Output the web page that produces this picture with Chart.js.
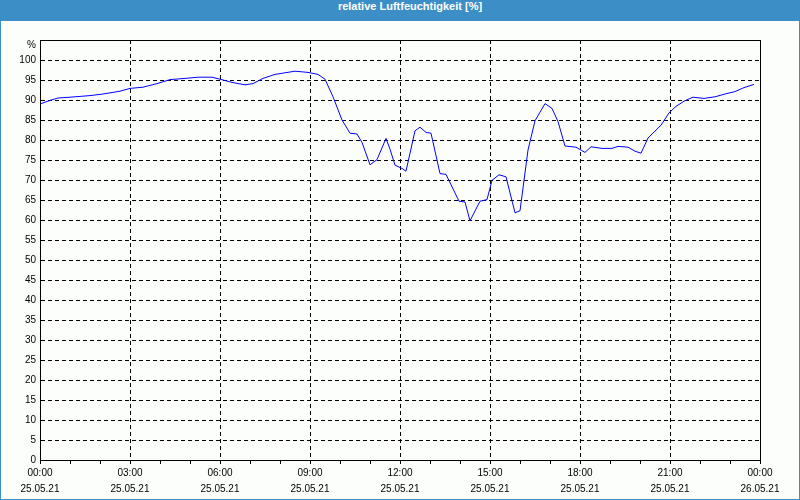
<!DOCTYPE html>
<html>
<head>
<meta charset="utf-8">
<script src="https://cdn.jsdelivr.net/npm/chart.js@4"></script>
<style>
    body { margin: 0; background: #fff; }
    #wrap { width: 800px; height: 500px; }
    #title {
        height: 21px;
        line-height: 19px;
        background: #3c8fc6;
        color: #fff;
        font: bold 11px "Liberation Sans", Arial, sans-serif;
        text-align: center;
        padding-left: 20px;
        box-sizing: border-box;
    }
    #box {
        width: 798px;
        height: 478px;
        border: 1px solid #3c8fc6;
        border-top: none;
        background: #fcfefc;
    }
    canvas { display: block; }
</style>
</head>
<body>
<div id="wrap">
    <div id="title">relative Luftfeuchtigkeit [%]</div>
    <div id="box"><canvas id="humChart" width="798" height="478"></canvas></div>
</div>
<script>
// Minutes since 25.05.21 00:00
const minutes = [0, 20, 36, 60, 100, 126, 160, 180, 206, 234, 260, 290, 316, 344, 360, 384, 410, 426, 446, 470,
    510, 536, 556, 570, 586, 604, 620, 634, 644, 660, 674, 692, 700, 710, 724, 732, 750, 760, 772, 782,
    800, 812, 838, 850, 860, 880, 894, 904, 918, 932, 950, 960, 976, 990, 1010, 1024, 1036, 1050, 1072, 1090,
    1102, 1124, 1144, 1156, 1176, 1190, 1202, 1216, 1242, 1258, 1272, 1288, 1306, 1328, 1350, 1370, 1390, 1408, 1428];

// relative humidity in %
const humidity = [89.0, 89.9, 90.5, 90.7, 91.1, 91.5, 92.2, 92.9, 93.2, 94.1, 95.1, 95.4, 95.7, 95.7, 95.2, 94.4, 93.8, 94.1, 95.4, 96.4,
    97.2, 96.9, 96.4, 95.2, 90.8, 85.0, 81.7, 81.5, 79.4, 73.8, 75.1, 80.4, 77.7, 73.7, 72.9, 72.2, 82.3, 83.2, 81.9, 81.7,
    71.6, 71.4, 64.7, 64.5, 59.8, 64.7, 65.1, 69.9, 71.3, 70.8, 61.8, 62.3, 77.5, 84.8, 89.1, 87.9, 84.6, 78.5, 78.2, 76.9,
    78.3, 77.9, 77.9, 78.4, 78.2, 77.2, 76.7, 80.5, 83.7, 86.8, 88.4, 89.7, 90.7, 90.4, 90.8, 91.5, 92.1, 93.1, 93.9];

const timeLabels = ['00:00', '03:00', '06:00', '09:00', '12:00', '15:00', '18:00', '21:00', '00:00'];
const dateLabels = ['25.05.21', '25.05.21', '25.05.21', '25.05.21', '25.05.21', '25.05.21', '25.05.21', '25.05.21', '26.05.21'];
const yUnit = '%';

const labelFont = { family: '"Liberation Sans", Arial, sans-serif', size: 10, lineHeight: 1.6 };

// frame round the plot + unit label above the y axis
const framePlugin = {
    id: 'frame',
    afterDraw(chart) {
        const a = chart.chartArea;
        const ctx = chart.ctx;
        ctx.save();
        ctx.strokeStyle = '#000';
        ctx.lineWidth = 1;
        ctx.strokeRect(Math.round(a.left) + 0.5, Math.round(a.top) + 0.5,
            Math.round(a.right - a.left), Math.round(a.bottom - a.top));
        ctx.fillStyle = '#000';
        ctx.font = '10px "Liberation Sans", Arial, sans-serif';
        ctx.textAlign = 'right';
        ctx.textBaseline = 'middle';
        ctx.fillText(yUnit, a.left - 4, a.top + 5);
        ctx.restore();
    }
};

const ctx = document.getElementById('humChart').getContext('2d');
const humChart = new Chart(ctx, {
    type: 'line',
    data: {
        datasets: [{
            data: minutes.map((m, i) => ({ x: m, y: humidity[i] })),
            borderColor: '#0000ff',
            borderWidth: 1,
            pointRadius: 0,
            tension: 0,
            fill: false
        }]
    },
    options: {
        responsive: false,
        animation: false,
        devicePixelRatio: 1,
        layout: { padding: { left: 0, top: 19, right: 39, bottom: 0 } },
        plugins: {
            legend: { display: false },
            tooltip: { enabled: false }
        },
        scales: {
            x: {
                type: 'linear',
                min: 0,
                max: 1440,
                afterFit: function(scale) { scale.height = 39; },
                ticks: {
                    stepSize: 60,
                    autoSkip: false,
                    maxRotation: 0,
                    padding: 1,
                    color: '#000',
                    font: labelFont,
                    callback: function(value) {
                        if (value % 180 !== 0) return '';
                        const i = value / 180;
                        return [timeLabels[i], dateLabels[i]];
                    }
                },
                grid: {
                    color: function(c) {
                        return (c.tick && c.tick.value % 180 === 0) ? '#000' : 'rgba(0,0,0,0)';
                    },
                    tickColor: '#000',
                    tickLength: 4
                },
                border: { color: '#000', width: 1, dash: [4, 3] }
            },
            y: {
                min: 0,
                max: 105,
                afterFit: function(scale) { scale.width = 39; },
                ticks: {
                    stepSize: 5,
                    padding: 4,
                    color: '#000',
                    font: labelFont,
                    callback: function(value) {
                        return value > 100 ? '' : value;
                    }
                },
                grid: {
                    color: '#000',
                    drawTicks: false
                },
                border: { color: '#000', width: 1, dash: [4, 3] }
            }
        }
    },
    plugins: [framePlugin]
});
</script>
</body>
</html>
